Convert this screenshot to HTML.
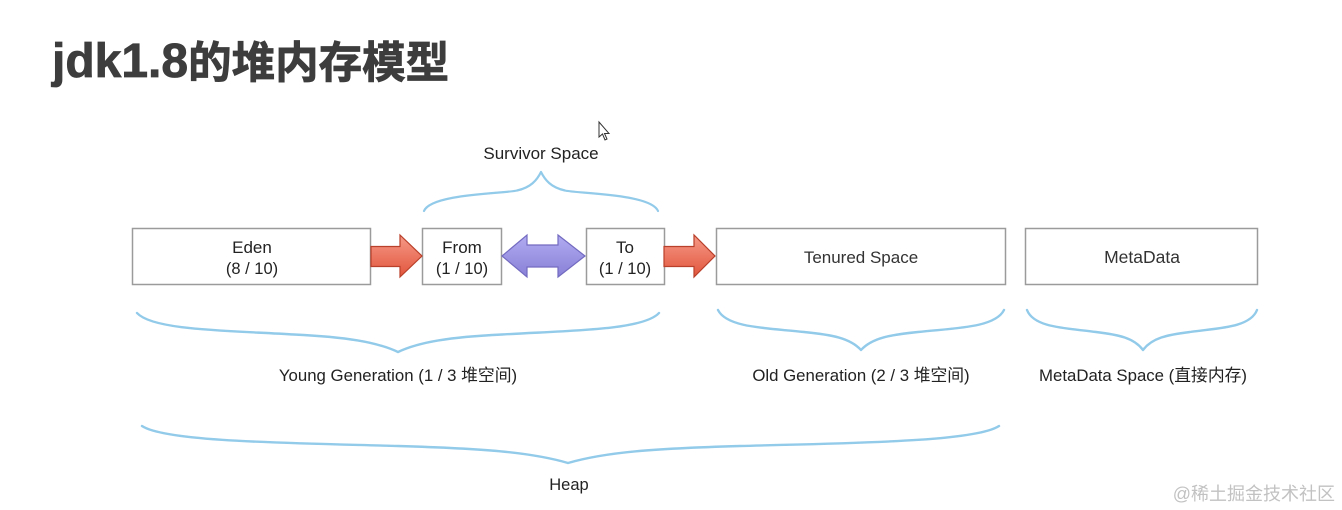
<!DOCTYPE html>
<html>
<head>
<meta charset="utf-8">
<style>
  html, body { margin: 0; padding: 0; background: #ffffff; }
  body { width: 1342px; height: 510px; overflow: hidden; }
  svg { display: block; }
  text { font-family: "Liberation Sans", "Noto Sans CJK SC", sans-serif; }
</style>
</head>
<body>
<svg width="1342" height="510" viewBox="0 0 1342 510" xmlns="http://www.w3.org/2000/svg">
  <defs>
    <linearGradient id="red" x1="0" y1="0" x2="0" y2="1">
      <stop offset="0" stop-color="#f59a88"/>
      <stop offset="1" stop-color="#e2553c"/>
    </linearGradient>
    <linearGradient id="purple" x1="0" y1="0" x2="0" y2="1">
      <stop offset="0" stop-color="#b2acf2"/>
      <stop offset="1" stop-color="#8880d6"/>
    </linearGradient>
  </defs>
  <rect x="0" y="0" width="1342" height="510" fill="#ffffff"/>

  <!-- Title -->
  <text x="52" y="77" font-size="48" font-weight="bold" fill="#3d3d3d" stroke="#3d3d3d" stroke-width="0.8">jdk1.8<tspan font-size="43.5" font-family="Noto Sans CJK SC, sans-serif" dy="1">的堆内存模型</tspan></text>

  <!-- cursor -->
  <polygon points="599,122 599,137 602.5,134 605,140 607,139 604.5,133.5 609,133.5" fill="#ffffff" stroke="#333" stroke-width="1"/>

  <!-- Survivor Space label + brace -->
  <text x="541" y="159" font-size="17" text-anchor="middle" fill="#222">Survivor Space</text>
  <path d="M424,211 C431,193.5 506,193.5 517,190.5 C531,187.5 537,180 541,172
           M658,211 C651,193.5 576,193.5 565,190.5 C551,187.5 545,180 541,172"
        fill="none" stroke="#92caea" stroke-width="2.2" stroke-linecap="round"/>

  <!-- Boxes -->
  <g fill="#ffffff" stroke="#9b9b9b" stroke-width="1.5">
    <rect x="132.5" y="228.5" width="238" height="56"/>
    <rect x="422.5" y="228.5" width="79" height="56"/>
    <rect x="586.5" y="228.5" width="78" height="56"/>
    <rect x="716.5" y="228.5" width="289" height="56"/>
    <rect x="1025.5" y="228.5" width="232" height="56"/>
  </g>

  <!-- Box labels -->
  <g font-size="17" text-anchor="middle" fill="#222">
    <text x="252" y="253">Eden</text>
    <text x="252" y="274" font-size="16.5">(8 / 10)</text>
    <text x="462" y="253">From</text>
    <text x="462" y="274" font-size="16.5">(1 / 10)</text>
    <text x="625" y="253">To</text>
    <text x="625" y="274" font-size="16.5">(1 / 10)</text>
    <text x="861" y="263" fill="#333">Tenured Space</text>
    <text x="1142" y="263" font-size="17.5" fill="#333">MetaData</text>
  </g>

  <!-- Arrows -->
  <polygon points="371,246.5 400,246.5 400,235 422,256 400,277 400,266.5 371,266.5" fill="url(#red)" stroke="#b9402a" stroke-width="1.2" stroke-linejoin="miter"/>
  <polygon points="664,246.5 694,246.5 694,235 715,256 694,277 694,266.5 664,266.5" fill="url(#red)" stroke="#b9402a" stroke-width="1.2" stroke-linejoin="miter"/>
  <polygon points="502,256 527,235 527,245 558,245 558,235 585,256 558,277 558,267 527,267 527,277" fill="url(#purple)" stroke="#736bc0" stroke-width="1.2"/>

  <!-- Lower braces -->
  <g fill="none" stroke="#92caea" stroke-width="2.4" stroke-linecap="round">
    <!-- Young -->
    <path d="M137,313 C153,330.5 228,330.5 294,334.5 C346,337 377,342 398,352
             M659,313 C643,330.5 568,330.5 502,334.5 C450,337 419,342 398,352"/>
    <!-- Old -->
    <path d="M718,310 C727,328 768,328 804,332 C832,334.8 850,338 861,350
             M1004,310 C995,328 954,328 918,332 C890,334.8 872,338 861,350"/>
    <!-- MetaData -->
    <path d="M1027,310 C1034,328 1067,328 1096,332 C1119,334.8 1134,338 1143,350
             M1257,310 C1250,328 1217,328 1190,332 C1167,334.8 1152,338 1143,350"/>
    <!-- Heap -->
    <path d="M142,426 C166,442 291,443 398,446 C482,448.5 530,452 568,463
             M999,426 C975,442 850,443 740,446 C654,448.5 606,452 568,463"/>
  </g>

  <!-- Lower labels -->
  <g font-size="16.8" text-anchor="middle" fill="#222">
    <text x="398" y="381">Young Generation (1 / 3 堆空间)</text>
    <text x="861" y="381">Old Generation (2 / 3 堆空间)</text>
    <text x="1143" y="381">MetaData Space (直接内存)</text>
    <text x="569" y="490" font-size="16.5">Heap</text>
  </g>

  <!-- Watermark -->
  <text x="1335" y="500" font-size="18" text-anchor="end" fill="#c2c2c2">@稀土掘金技术社区</text>
</svg>
</body>
</html>
